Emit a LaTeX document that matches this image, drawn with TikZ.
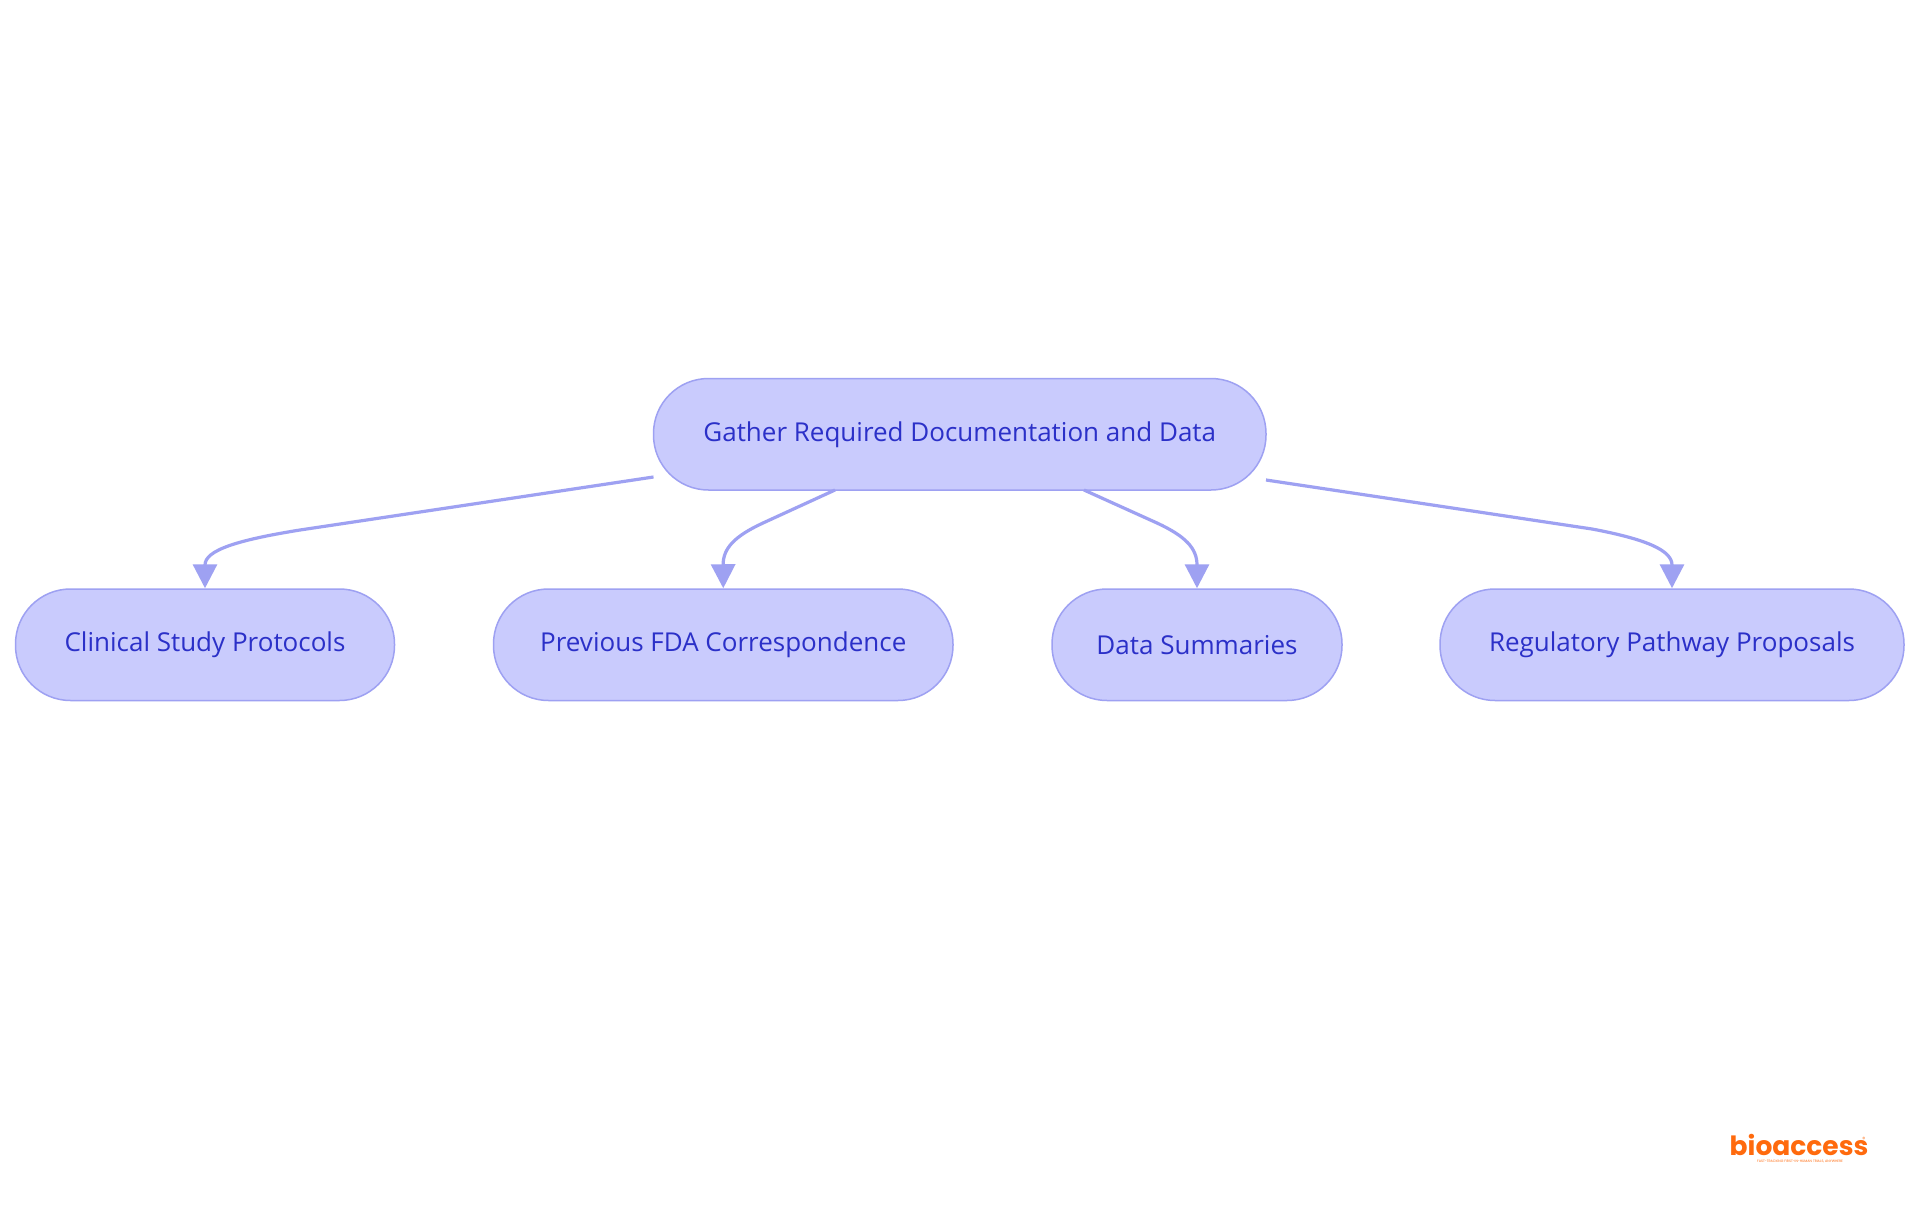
\documentclass[tikz,border=0pt]{standalone}
\usepackage{fontspec}
\setmainfont{Open Sans}
\newfontfamily\logofont{Poppins}
\usetikzlibrary{arrows.meta}
\definecolor{boxfill}{HTML}{C9CBFD}
\definecolor{boxline}{HTML}{9EA1F2}
\definecolor{boxtext}{HTML}{2B30C8}
\definecolor{logoor}{HTML}{FF6A0D}
\tikzset{
  pill/.style={draw=boxline,fill=boxfill,line width=1.5pt,rounded corners=55pt,minimum height=111.5pt,inner sep=0pt,text=boxtext,font=\fontsize{26}{30}\selectfont,anchor=center},
  link/.style={draw=boxline,line width=3.2pt,-{Triangle[width=24pt,length=24pt,fill=boxline]}}
}
\begin{document}
\begin{tikzpicture}[x=1pt,y=-1pt]
\useasboundingbox (0,0) rectangle (1920,1215);
\fill[white] (0,0) rectangle (1920,1215);
\node[pill,minimum width=612.5pt] (root) at (959.75,434.25) {Gather Required Documentation and Data};
\node[pill,minimum width=379pt] (a) at (205,644.75) {Clinical Study Protocols};
\node[pill,minimum width=459.5pt] (b) at (723.25,644.75) {Previous FDA Correspondence};
\node[pill,minimum width=290pt] (c) at (1197,644.75) {Data Summaries};
\node[pill,minimum width=464pt] (d) at (1672,644.75) {Regulatory Pathway Proposals};
\coordinate (ra) at (653.5,477);
\coordinate (rb) at (835,490);
\coordinate (rc) at (1084,490);
\coordinate (rd) at (1266,480);
\draw[link] (ra) -- (300,530) .. controls (238,540) and (205,550) .. (a.north);
\draw[link] (rb) -- (763,523) .. controls (735,536) and (723,548) .. (b.north);
\draw[link] (rc) -- (1157,523) .. controls (1185,536) and (1197,548) .. (c.north);
\draw[link] (rd) -- (1592,529) .. controls (1645,539) and (1672,550) .. (d.north);
\node[inner sep=0pt,text=logoor,font=\logofont\bfseries\fontsize{26.5}{28}\selectfont] (logo) at (1799,1144.5) {bioaccess};
\node[inner sep=0pt,text=logoor,font=\logofont\fontsize{6}{7}\selectfont] (reg) at (1864,1139) {®};
\node[inner sep=0pt,text=logoor,font=\logofont\fontsize{3.4}{4}\selectfont] (tag) at (1800,1161.5) {FAST-TRACKING FIRST-IN-HUMAN TRIALS, ANYWHERE};
\end{tikzpicture}
\end{document}
